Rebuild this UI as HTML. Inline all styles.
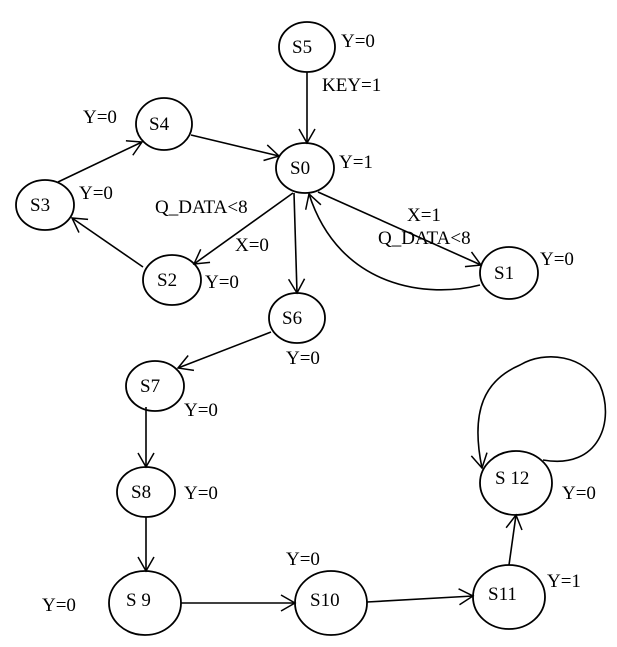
<!DOCTYPE html>
<html><head><meta charset="utf-8"><style>
html,body{margin:0;padding:0;background:#fff}
svg{display:block}
text{font-family:"Liberation Serif",serif;font-size:19px;fill:#000}
</style></head><body>
<svg width="617" height="647" viewBox="0 0 617 647" xmlns="http://www.w3.org/2000/svg">
<defs>
<marker id="a" markerWidth="18" markerHeight="18" refX="16" refY="9" orient="auto" markerUnits="userSpaceOnUse">
<polyline points="2,1 16,9 2,17" fill="none" stroke="#000" stroke-width="1.5"/>
</marker>
</defs>
<g fill="none" stroke="#000" stroke-width="1.8">
<ellipse cx="307" cy="47" rx="28" ry="25"/>
<ellipse cx="305" cy="168" rx="29" ry="25"/>
<ellipse cx="164" cy="124" rx="28" ry="26"/>
<ellipse cx="45" cy="205" rx="29" ry="25"/>
<ellipse cx="172" cy="280" rx="29" ry="25"/>
<ellipse cx="509" cy="273" rx="29" ry="26"/>
<ellipse cx="297" cy="318" rx="28" ry="25"/>
<ellipse cx="155" cy="386" rx="29" ry="25"/>
<ellipse cx="146" cy="492" rx="29" ry="25"/>
<ellipse cx="145" cy="603" rx="36" ry="32"/>
<ellipse cx="331" cy="603" rx="36" ry="32"/>
<ellipse cx="509" cy="597" rx="36" ry="32"/>
<ellipse cx="516" cy="483" rx="36" ry="32"/>
</g>
<g fill="none" stroke="#000" stroke-width="1.6" marker-end="url(#a)">
<line x1="307" y1="72" x2="307" y2="143"/>
<line x1="191" y1="135" x2="279" y2="156"/>
<line x1="58" y1="182" x2="142" y2="142"/>
<line x1="143" y1="267" x2="72" y2="218"/>
<line x1="293" y1="193" x2="194" y2="264"/>
<line x1="294" y1="193" x2="297" y2="293"/>
<line x1="318" y1="192" x2="481" y2="265"/>
<path d="M480,285 C430,298 340,290 309,194"/>
<line x1="271" y1="332" x2="178" y2="368"/>
<line x1="146" y1="407" x2="146" y2="467"/>
<line x1="146" y1="517" x2="146" y2="571"/>
<line x1="181" y1="603" x2="295" y2="603"/>
<line x1="367" y1="602" x2="473" y2="596"/>
<line x1="509" y1="565" x2="516" y2="515"/>
<path d="M543,460 C600,470 615,420 600,385 C585,355 545,350 520,365 C485,380 470,410 482,468"/>
</g>
<g>
<text x="292" y="53">S5</text>
<text x="290" y="174">S0</text>
<text x="149" y="130">S4</text>
<text x="30" y="211">S3</text>
<text x="157" y="286">S2</text>
<text x="494" y="279">S1</text>
<text x="282" y="324">S6</text>
<text x="140" y="392">S7</text>
<text x="131" y="498">S8</text>
<text x="126" y="606">S 9</text>
<text x="310" y="606">S10</text>
<text x="488" y="600">S11</text>
<text x="495" y="484">S 12</text>
<text x="341" y="47">Y=0</text>
<text x="322" y="91">KEY=1</text>
<text x="83" y="123">Y=0</text>
<text x="339" y="168">Y=1</text>
<text x="79" y="199">Y=0</text>
<text x="155" y="213">Q_DATA&lt;8</text>
<text x="235" y="251">X=0</text>
<text x="205" y="288">Y=0</text>
<text x="407" y="221">X=1</text>
<text x="378" y="244">Q_DATA&lt;8</text>
<text x="540" y="265">Y=0</text>
<text x="286" y="364">Y=0</text>
<text x="184" y="416">Y=0</text>
<text x="184" y="499">Y=0</text>
<text x="42" y="611">Y=0</text>
<text x="286" y="565">Y=0</text>
<text x="547" y="587">Y=1</text>
<text x="562" y="499">Y=0</text>
</g>
</svg>
</body></html>
